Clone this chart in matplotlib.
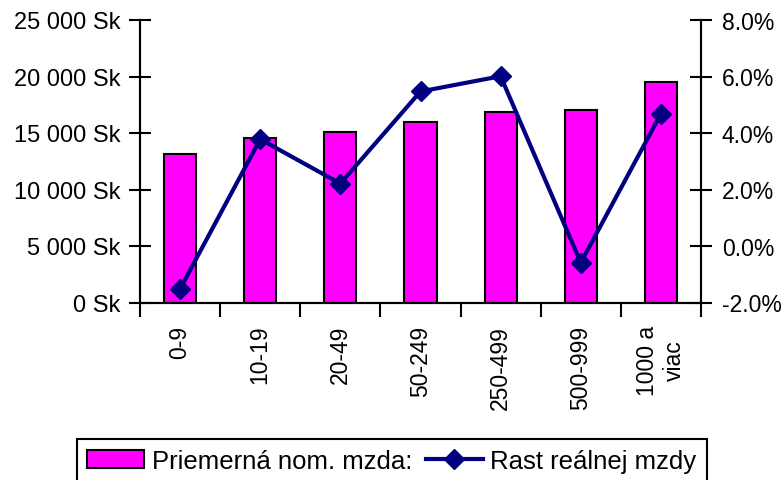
import matplotlib
matplotlib.use("Agg")
import matplotlib.pyplot as plt
from matplotlib.ticker import FuncFormatter, FixedLocator
import numpy as np

categories = ["0-9", "10-19", "20-49", "50-249", "250-499", "500-999", "1000 a\nviac"]
nominal_wage = [13180, 14590, 15120, 16000, 16880, 17060, 19530]
real_growth = [-1.52, 3.78, 2.21, 5.47, 6.01, -0.59, 4.68]
bar_label = "Priemerná nom. mzda:"
line_label = "Rast reálnej mzdy"

plt.rcParams['font.family'] = ['Liberation Sans', 'DejaVu Sans']
FS = 16.5
YFS = 17
LFS = 18.5

fig = plt.figure(figsize=(7.83, 4.81), dpi=100)
ax = fig.add_axes([140/783, 1-303.5/481, (701-140)/783, (303.5-21)/481])
x = np.arange(len(categories))
bars = ax.bar(x, nominal_wage, width=0.4, color="#FF00FF", edgecolor="black", linewidth=1.5, label=bar_label, zorder=2)
ax.set_xlim(-0.5, len(categories)-0.5)
ax.set_ylim(0, 25000)
ax.set_yticks(np.arange(0, 25001, 5000))
ax.yaxis.set_major_formatter(FuncFormatter(lambda v, p: (f"{int(v):,}".replace(",", " ")) + " Sk"))
ax.set_xticks(x)
ax.set_xticklabels(categories, rotation=90, ha='center', va='top', multialignment='center', fontsize=FS)
ax.tick_params(axis='x', which='major', length=0, pad=16)
ax.xaxis.set_minor_locator(FixedLocator(np.arange(-0.5, len(categories), 1.0)))
ax.tick_params(axis='x', which='minor', direction='out', length=10, width=1.5)
ax.tick_params(axis='y', direction='inout', length=16, width=1.5, labelsize=YFS, pad=6)
ax.spines['top'].set_visible(False)
for s in ['left', 'right', 'bottom']:
    ax.spines[s].set_linewidth(1.5)

ax2 = ax.twinx()
line, = ax2.plot(x, real_growth, color="#000080", linewidth=3, marker='D', markersize=10, label=line_label, zorder=3)
ax2.set_ylim(-2, 8)
ax2.set_yticks(np.arange(-2, 8.01, 2))
ax2.yaxis.set_major_formatter(FuncFormatter(lambda v, p: f"{v:.1f}%"))
ax2.tick_params(axis='y', direction='inout', length=16, width=1.5, labelsize=FS, pad=7)
ax2.spines['top'].set_visible(False)
for s in ['left', 'right', 'bottom']:
    ax2.spines[s].set_linewidth(1.5)

leg = fig.legend([bars, line], [bar_label, line_label], loc='upper left',
                 bbox_to_anchor=(77/783, 1-440/481), ncol=2, fontsize=LFS,
                 frameon=True, fancybox=False, edgecolor='black', framealpha=1,
                 handlelength=2.2, handletextpad=0.3, columnspacing=0.55, borderpad=0.4,
                 borderaxespad=0)
leg.get_frame().set_linewidth(1.5)

fig.savefig("out.png", dpi=100)
